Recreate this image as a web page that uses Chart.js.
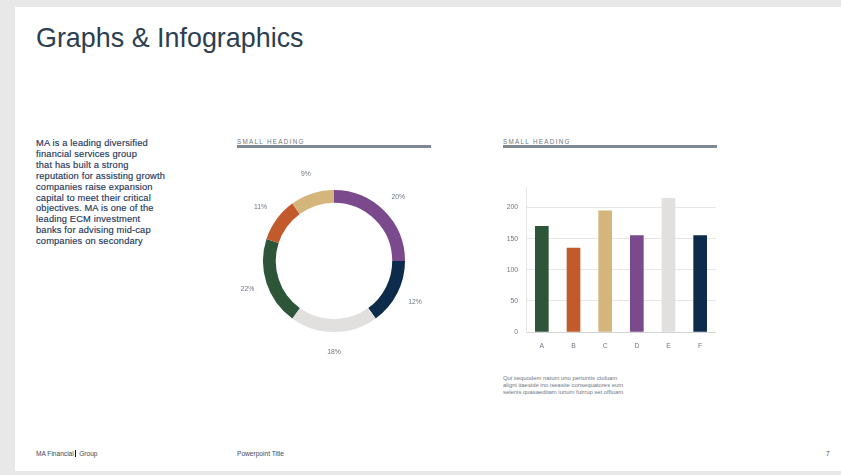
<!DOCTYPE html>
<html>
<head>
<meta charset="utf-8">
<script src="https://cdn.jsdelivr.net/npm/chart.js@4.4.1/dist/chart.umd.min.js"></script>
<style>
  html, body { margin:0; padding:0; }
  body { width:841px; height:475px; background:#e8e8e8; position:relative; overflow:hidden; font-family:"Liberation Sans", Arial, sans-serif; }
  #slide { position:absolute; left:15px; top:7px; width:826px; height:464px; background:#ffffff; }
  .abs { position:absolute; }
  #title { left:36px; top:23px; font-size:26.9px; color:#2c3e50; white-space:nowrap; }
  #body { left:36px; top:138px; width:180px; font-size:9.3px; line-height:10.9px; letter-spacing:0.16px; color:#24365a; white-space:nowrap; -webkit-text-stroke:0.15px #24365a; }
  .sh { font-size:6.3px; letter-spacing:1.3px; color:#6d7681; white-space:nowrap; }
  .rule { height:3px; background:#7d8893; }
  .note { font-size:5.9px; line-height:6.8px; color:#6f7884; white-space:nowrap; }
  .foot { font-size:6.6px; color:#3d4a5c; top:450px; white-space:nowrap; }
  #donutWrap { left:214px; top:141px; width:240px; height:240px; }
  #barWrap { left:498px; top:175px; width:218px; height:177px; }
</style>
</head>
<body>
<div id="slide"></div>
<div id="title" class="abs">Graphs &amp; Infographics</div>
<div id="body" class="abs">MA is a leading diversified<br>financial services group<br>that has built a strong<br>reputation for assisting growth<br>companies raise expansion<br>capital to meet their critical<br>objectives. MA is one of the<br>leading ECM investment<br>banks for advising mid-cap<br>companies on secondary</div>

<div class="abs sh" style="left:237px;top:138px;">SMALL HEADING</div>
<div class="abs rule" style="left:237px;top:145px;width:194px;"></div>
<div class="abs sh" style="left:503px;top:138px;">SMALL HEADING</div>
<div class="abs rule" style="left:503px;top:145px;width:214px;"></div>

<div id="donutWrap" class="abs"><canvas id="donut" width="240" height="240"></canvas></div>
<div id="barWrap" class="abs"><canvas id="bar" width="218" height="177"></canvas></div>

<div class="abs note" style="left:503px;top:375px;">Qui sequodem natum unu pertuntis ctoluam<br>aligni itaeside ino iseasite consequatores eum<br>selenis quasaeditam iunum fuirrup set offiuam</div>

<div class="abs foot" style="left:36px;">MA Financial<span style="display:inline-block;width:1.6px;height:7px;background:#111;vertical-align:-1px;margin:0 1px;"></span> Group</div>
<div class="abs foot" style="left:237px;">Powerpoint Title</div>
<div class="abs foot" style="left:826px;">7</div>

<script>
// Donut data (arc shares as drawn) and its printed labels
const donutShares = [25, 15, 20, 20, 10, 10];
const donutLabels = ["20%", "12%", "18%", "22%", "11%", "9%"];
const donutColors = ["#7a4a8c", "#0d2b4b", "#e2dfdf", "#2d5538", "#c35a2b", "#d4b67c"];

// Bar data
const barCategories = ["A", "B", "C", "D", "E", "F"];
const barValues = [170, 135, 195, 155, 215, 155];
const barColors = ["#2d5538", "#c35a2b", "#d4b67c", "#7a4a8c", "#e2dfdf", "#0d2b4b"];
const yTicks = [0, 50, 100, 150, 200];

const FONT = '"Liberation Sans", Arial, sans-serif';

const outsideLabels = {
  id: 'outsideLabels',
  afterDatasetsDraw(chart) {
    const ctx = chart.ctx;
    const meta = chart.getDatasetMeta(0);
    ctx.save();
    ctx.font = '6.8px ' + FONT;
    ctx.fillStyle = '#6d7681';
    ctx.textAlign = 'center';
    ctx.textBaseline = 'middle';
    meta.data.forEach((arc, i) => {
      const p = arc.getProps(['x','y','startAngle','endAngle','outerRadius'], true);
      const a = (p.startAngle + p.endAngle) / 2;
      const r = p.outerRadius * 1.28;
      ctx.fillText(donutLabels[i], p.x + Math.cos(a) * r, p.y + Math.sin(a) * r);
    });
    ctx.restore();
  }
};

new Chart(document.getElementById('donut'), {
  type: 'doughnut',
  data: {
    labels: donutLabels,
    datasets: [{ data: donutShares, backgroundColor: donutColors, borderWidth: 0 }]
  },
  options: {
    responsive: false,
    animation: false,
    cutout: '82%',
    layout: { padding: 49 },
    plugins: { legend: { display: false }, tooltip: { enabled: false } }
  },
  plugins: [outsideLabels]
});

new Chart(document.getElementById('bar'), {
  type: 'bar',
  data: {
    labels: barCategories,
    datasets: [{ data: barValues, backgroundColor: barColors, borderWidth: 0, barThickness: 13 }]
  },
  options: {
    responsive: false,
    animation: false,
    layout: { padding: { top: 4, right: 0, left: 0, bottom: 0 } },
    plugins: { legend: { display: false }, tooltip: { enabled: false } },
    scales: {
      x: {
        grid: { display: false, drawTicks: false },
        border: { display: true, color: '#d4d4d4', width: 1 },
        ticks: { color: '#6d7681', font: { size: 6.8, family: FONT }, padding: 10 },
        afterFit(s) { s.height = 20; }
      },
      y: {
        bounds: 'data',
        min: 0, max: 233,
        afterBuildTicks(s) { s.ticks = yTicks.map(v => ({ value: v })); },
        grid: { color: '#e6e6e6', drawTicks: false, lineWidth: 1 },
        border: { display: true, color: '#e6e6e6' },
        ticks: { color: '#6d7681', font: { size: 6.8, family: FONT }, padding: 8 },
        afterFit(s) { s.width = 28; }
      }
    }
  }
});
</script>
</body>
</html>
